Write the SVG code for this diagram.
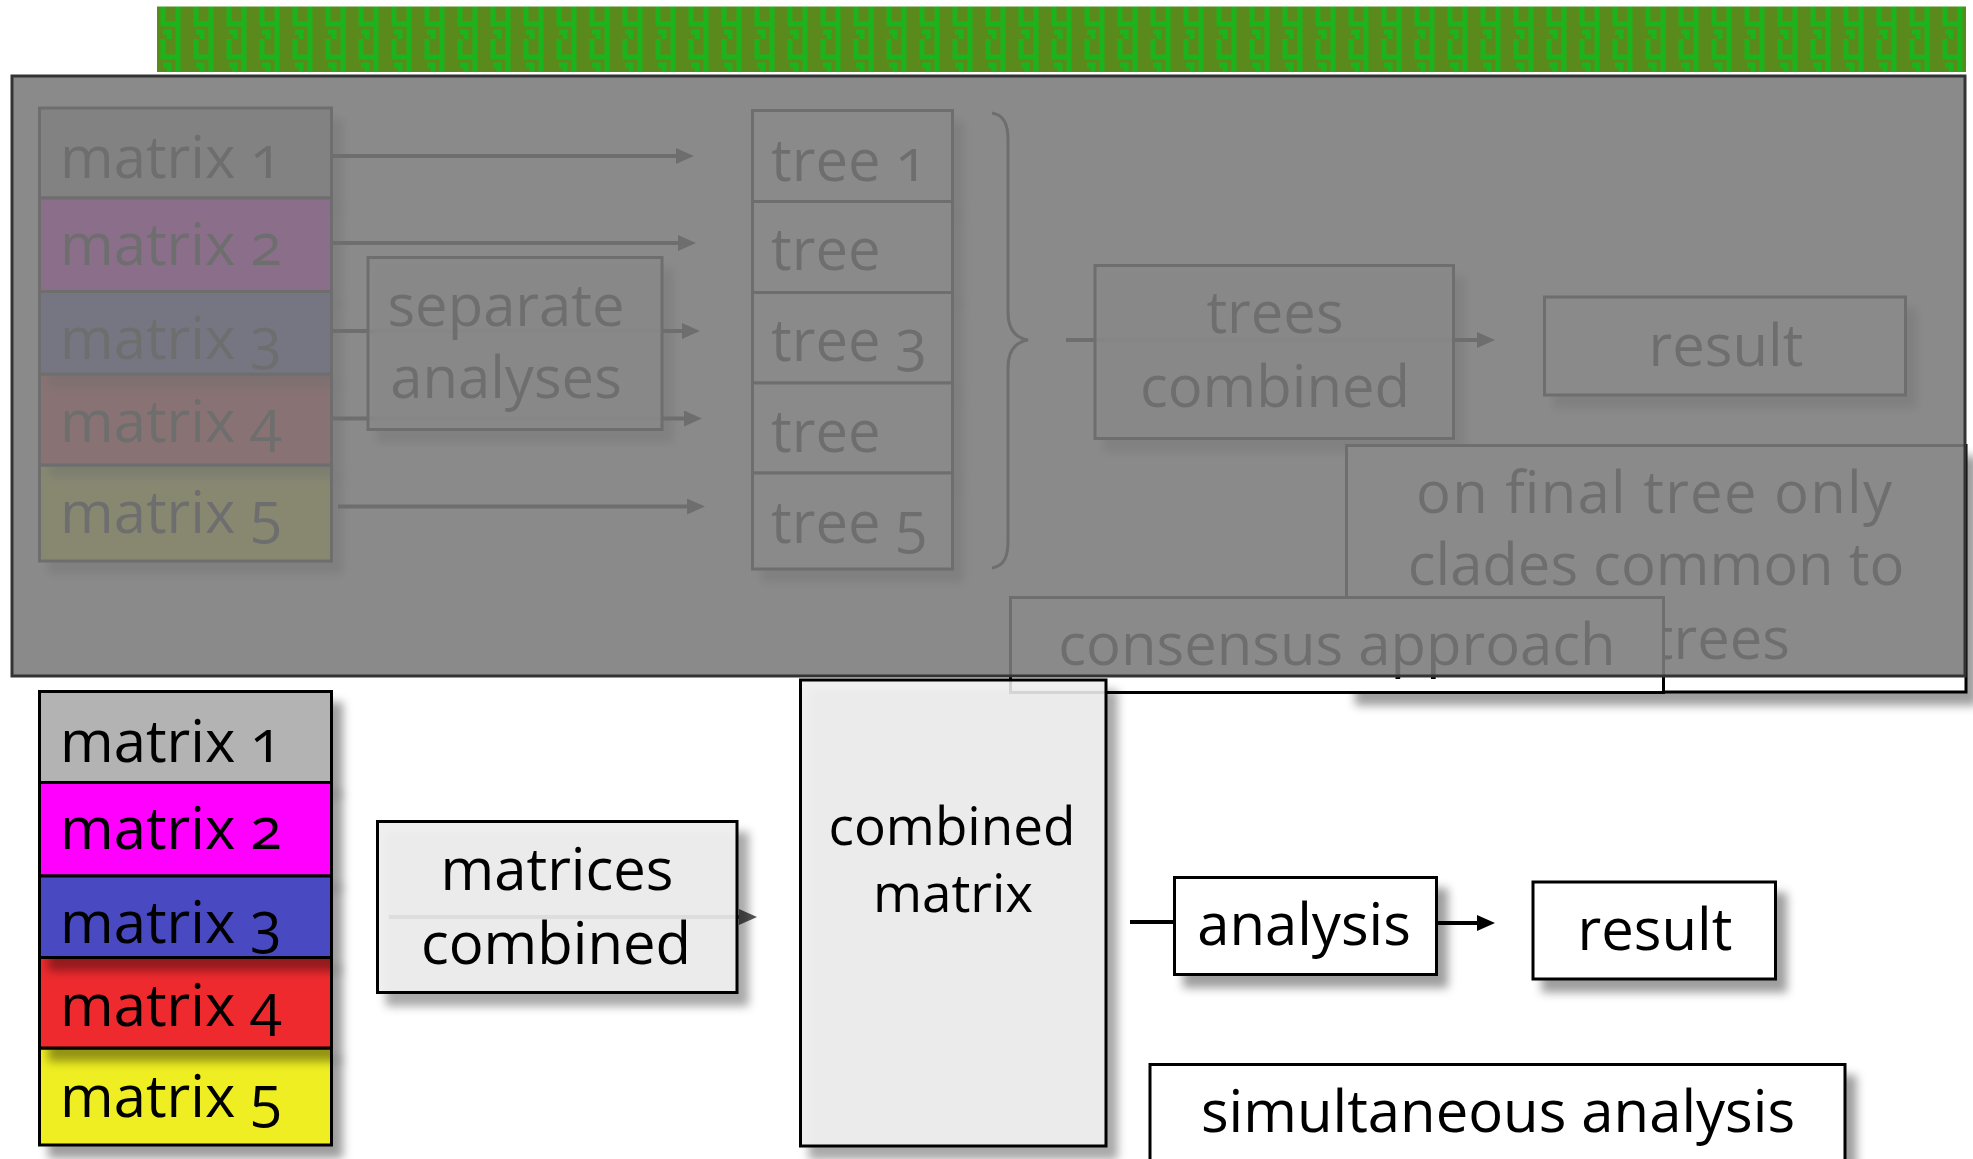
<svg xmlns="http://www.w3.org/2000/svg" width="1973" height="1159" viewBox="0 0 1973 1159">
  <style>
    .box { fill: #ffffff; stroke: #000000; stroke-width: 3; }
    .soft { fill: #eeeeee; fill-opacity: 0.88; stroke: #000000; stroke-width: 3; }
    .lbl { font-family: "Open Sans", "Liberation Sans", sans-serif; font-size: 58px; fill: #000000; font-variant-numeric: oldstyle-nums; font-feature-settings: "onum" 1; }
    .small { font-size: 53px; }
    .mid { text-anchor: middle; }
    .end { text-anchor: end; }
    .edge { fill: none; stroke: #000000; stroke-width: 4; }
    .edge.grey { stroke: #555555; }
    .brace { fill: none; stroke: #000000; stroke-width: 3; }
  </style>
  <defs>
    <pattern id="weave" x="157" y="6" width="33" height="33" patternUnits="userSpaceOnUse">
      <rect width="33" height="33" fill="#5a8a1c"/>
      <path d="M6 0V18H21M21 0V33M12 33V26H6" fill="none" stroke="#1cb41c" stroke-width="5"/>
    </pattern>
    <filter id="shadow" x="-10%" y="-15%" width="130%" height="150%">
      <feDropShadow dx="10" dy="12" stdDeviation="5" flood-color="#000000" flood-opacity="0.38"/>
    </filter>
    <marker id="head" viewBox="0 0 18 16" refX="0" refY="8" markerWidth="18" markerHeight="16" markerUnits="userSpaceOnUse" orient="auto">
      <path d="M0 0L18 8L0 16z" fill="#000000"/>
    </marker>
    <marker id="head-grey" viewBox="0 0 18 16" refX="0" refY="8" markerWidth="18" markerHeight="16" markerUnits="userSpaceOnUse" orient="auto">
      <path d="M0 0L18 8L0 16z" fill="#555555"/>
    </marker>
  </defs>

  <rect width="1973" height="1159" fill="#ffffff"/>

  <!-- decorative band -->
  <rect id="band" x="157" y="6.5" width="1809" height="65.5" fill="url(#weave)"/>

  <!-- ===== consensus approach (greyed out) ===== -->
  <g id="edges-consensus">
    <path class="edge" d="M331 156H676" marker-end="url(#head)"/>
    <path class="edge" d="M331 243H678" marker-end="url(#head)"/>
    <path class="edge" d="M331 331H682" marker-end="url(#head)"/>
    <path class="edge" d="M333 418.5H684" marker-end="url(#head)"/>
    <path class="edge" d="M338 506.5H687" marker-end="url(#head)"/>
    <path class="edge" d="M1066 340H1477" marker-end="url(#head)"/>
    <path class="brace" d="M992 113C1004 115 1008 124 1008 140V312C1008 330 1016 338 1028 340C1016 342 1008 350 1008 368V541C1008 557 1004 566 992 568"/>
  </g>

  <g id="c-matrix-1"><rect x="39.5" y="108" width="292" height="90" fill="#b3b3b3" stroke="#000" stroke-width="3" filter="url(#shadow)"/><text class="lbl" x="60" y="178">matrix 1</text></g>
  <g id="c-matrix-2"><rect x="39.5" y="198" width="292" height="93.5" fill="#ff00ff" stroke="#000" stroke-width="3" filter="url(#shadow)"/><text class="lbl" x="60" y="265">matrix 2</text></g>
  <g id="c-matrix-5"><rect x="39.5" y="465" width="292" height="96" fill="#eeee22" stroke="#000" stroke-width="3" filter="url(#shadow)"/><text class="lbl" x="60" y="533">matrix 5</text></g>
  <g id="c-matrix-4"><rect x="39.5" y="374" width="292" height="91" fill="#ee2a2e" stroke="#000" stroke-width="3" filter="url(#shadow)"/><text class="lbl" x="60" y="442">matrix 4</text></g>
  <g id="c-matrix-3"><rect x="39.5" y="291.5" width="292" height="82.5" fill="#4a4ac2" stroke="#000" stroke-width="3" filter="url(#shadow)"/><text class="lbl" x="60" y="359">matrix 3</text></g>

  <g id="separate-analyses">
    <rect class="soft" x="368" y="257.5" width="294" height="172" filter="url(#shadow)"/>
    <text class="lbl mid" x="506" y="326">separate</text>
    <text class="lbl mid" x="506" y="398">analyses</text>
  </g>

  <g id="tree-1"><rect class="box" x="752.5" y="110.5" width="200" height="91" filter="url(#shadow)"/><text class="lbl" x="771" y="181">tree 1</text></g>
  <g id="tree-2"><rect class="box" x="752.5" y="201.5" width="200" height="91" filter="url(#shadow)"/><text class="lbl" x="771" y="270">tree</text></g>
  <g id="tree-3"><rect class="box" x="752.5" y="292.5" width="200" height="90.5" filter="url(#shadow)"/><text class="lbl" x="771" y="361">tree 3</text></g>
  <g id="tree-4"><rect class="box" x="752.5" y="383" width="200" height="90" filter="url(#shadow)"/><text class="lbl" x="771" y="452">tree</text></g>
  <g id="tree-5"><rect class="box" x="752.5" y="473" width="200" height="96" filter="url(#shadow)"/><text class="lbl" x="771" y="543">tree 5</text></g>

  <g id="trees-combined">
    <rect class="soft" x="1095" y="265.5" width="358.5" height="173" filter="url(#shadow)"/>
    <text class="lbl mid" x="1275" y="333">trees</text>
    <text class="lbl mid" x="1275" y="407">combined</text>
  </g>

  <g id="c-result">
    <rect class="box" x="1544.5" y="297" width="361" height="98" filter="url(#shadow)"/>
    <text class="lbl mid" x="1726" y="366">result</text>
  </g>

  <g id="final-tree-note">
    <rect class="box" x="1346.5" y="445.5" width="619.5" height="246.5" filter="url(#shadow)"/>
    <text class="lbl mid" x="1654" y="513" textLength="476" lengthAdjust="spacing">on final tree only</text>
    <text class="lbl mid" x="1656" y="585">clades common to</text>
    <text class="lbl end" x="1790" y="659">trees</text>
  </g>

  <g id="consensus-approach">
    <rect class="box" x="1010.5" y="597.5" width="653" height="95"/>
    <text class="lbl mid" x="1337" y="665">consensus approach</text>
  </g>

  <!-- grey veil over the consensus half -->
  <rect x="12" y="76" width="1953" height="600" fill="#7c7c7c" fill-opacity="0.89"/>
  <rect x="12" y="76" width="1953" height="600" fill="none" stroke="#333333" stroke-width="3"/>

  <!-- ===== simultaneous analysis ===== -->
  <g id="edges-simultaneous">
    <path class="edge grey" d="M389 917H739" marker-end="url(#head-grey)"/>
    <path class="edge" d="M1130 922H1174" stroke-width="5"/>
    <path class="edge" d="M1437 923H1477" marker-end="url(#head)"/>
  </g>

  <g id="matrix-1"><rect x="39.5" y="691.5" width="292" height="91" fill="#b3b3b3" stroke="#000" stroke-width="3" filter="url(#shadow)"/><text class="lbl" x="60" y="762">matrix 1</text></g>
  <g id="matrix-2"><rect x="39.5" y="782.5" width="292" height="93.5" fill="#ff00ff" stroke="#000" stroke-width="3" filter="url(#shadow)"/><text class="lbl" x="60" y="849">matrix 2</text></g>
  <g id="matrix-5"><rect x="39.5" y="1048" width="292" height="97" fill="#eeee22" stroke="#000" stroke-width="3" filter="url(#shadow)"/><text class="lbl" x="60" y="1117">matrix 5</text></g>
  <g id="matrix-4"><rect x="39.5" y="957.5" width="292" height="90.5" fill="#ee2a2e" stroke="#000" stroke-width="3" filter="url(#shadow)"/><text class="lbl" x="60" y="1026">matrix 4</text></g>
  <g id="matrix-3"><rect x="39.5" y="876" width="292" height="81.5" fill="#4a4ac2" stroke="#000" stroke-width="3" filter="url(#shadow)"/><text class="lbl" x="60" y="943">matrix 3</text></g>

  <g id="matrices-combined">
    <rect class="soft" x="377.5" y="821.5" width="359.5" height="171" filter="url(#shadow)"/>
    <text class="lbl mid" x="557" y="890">matrices</text>
    <text class="lbl mid" x="556" y="964">combined</text>
  </g>

  <g id="combined-matrix">
    <rect class="soft" x="800.5" y="680" width="305.5" height="466" filter="url(#shadow)"/>
    <text class="lbl small mid" x="952" y="845">combined</text>
    <text class="lbl small mid" x="953" y="912">matrix</text>
  </g>

  <g id="analysis">
    <rect class="box" x="1174.5" y="877.5" width="262" height="97" filter="url(#shadow)"/>
    <text class="lbl mid" x="1304" y="945">analysis</text>
  </g>

  <g id="result">
    <rect class="box" x="1533" y="882" width="242.5" height="97" filter="url(#shadow)"/>
    <text class="lbl mid" x="1655" y="950">result</text>
  </g>

  <g id="simultaneous-analysis">
    <rect class="box" x="1150" y="1064.5" width="695" height="130" filter="url(#shadow)"/>
    <text class="lbl mid" x="1498" y="1132">simultaneous analysis</text>
  </g>
</svg>
